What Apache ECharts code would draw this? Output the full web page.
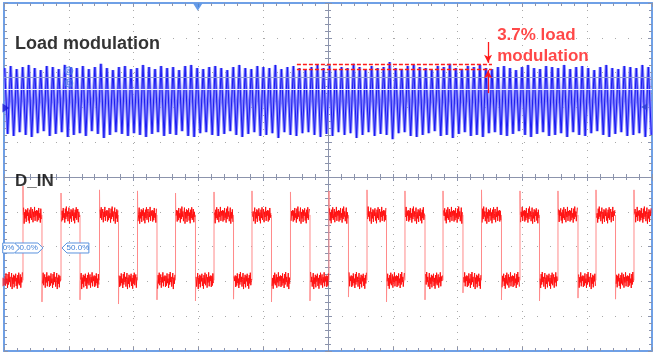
<!DOCTYPE html>
<html><head><meta charset="utf-8">
<script src="https://cdn.jsdelivr.net/npm/echarts@6/dist/echarts.min.js"></script>
<style>html,body{margin:0;padding:0;background:#fff}#c{width:656px;height:356px}</style>
</head><body><div id="c"></div>
<script>
// ---- Data (x in horizontal divisions 0..10, y in vertical divisions 0..10) ----
// Channel 1 (Load modulation): envelope peaks of each carrier cycle
var blueTop = [
8.13,8.19,8.10,8.16,8.22,8.13,8.07,8.19,8.16,8.10,
8.22,8.16,8.13,8.19,8.10,8.16,8.25,8.13,8.07,8.16,
8.19,8.10,8.13,8.22,8.16,8.10,8.19,8.13,8.16,8.07,
8.19,8.22,8.13,8.10,8.16,8.19,8.13,8.07,8.16,8.22,
8.13,8.10,8.19,8.16,8.13,8.22,8.10,8.16,8.19,8.13,
8.10,8.16,8.22,8.13,8.19,8.10,8.16,8.13,8.25,8.16,
8.10,8.19,8.13,8.16,8.30,8.13,8.10,8.19,8.22,8.16,
8.13,8.07,8.19,8.16,8.25,8.13,8.10,8.19,8.16,8.22,
8.13,8.10,8.16,8.19,8.13,8.07,8.16,8.22,8.13,8.10,
8.19,8.16,8.13,8.22,8.10,8.16,8.19,8.13,8.07,8.16,
8.22,8.13,8.10,8.19,8.16,8.13,8.22,8.16];
var blueBottom = [
6.24,6.18,6.29,6.21,6.15,6.26,6.32,6.18,6.24,6.29,
6.15,6.21,6.26,6.18,6.32,6.24,6.12,6.21,6.29,6.24,
6.18,6.26,6.21,6.15,6.24,6.29,6.18,6.24,6.21,6.32,
6.18,6.15,6.26,6.29,6.21,6.18,6.24,6.32,6.21,6.15,
6.24,6.29,6.18,6.21,6.26,6.12,6.29,6.21,6.18,6.26,
6.29,6.21,6.15,6.24,6.18,6.29,6.21,6.26,6.12,6.21,
6.29,6.18,6.24,6.21,6.09,6.26,6.29,6.18,6.15,6.21,
6.26,6.32,6.18,6.21,6.12,6.24,6.29,6.18,6.21,6.15,
6.26,6.29,6.21,6.18,6.24,6.32,6.21,6.15,6.24,6.29,
6.18,6.21,6.26,6.15,6.29,6.21,6.18,6.26,6.32,6.21,
6.15,6.24,6.29,6.18,6.21,6.26,6.15,6.21];
var blueStart = 0.01, blueEnd = 9.99;
var cursorLevels = [7.87, 7.53];

// Channel 2 (D_IN): edges, levels, spikes
var risingEdges  = [0.293,0.880,1.474,2.060,2.647,3.241,3.827,4.421,5.015,5.602,6.188,6.775,7.369,7.963,8.549,9.136,9.722];
var risingSpikes = [4.74,4.54,4.63,4.60,4.54,4.57,4.60,4.57,4.60,4.63,4.60,4.60,4.63,4.60,4.60,4.63,4.63];
var fallingEdges = [0.586,1.173,1.767,2.361,2.955,3.542,4.128,4.722,5.316,5.903,6.497,7.083,7.677,8.264,8.858,9.437];
var fallingSpikes= [1.41,1.47,1.35,1.47,1.44,1.49,1.41,1.44,1.55,1.41,1.47,1.67,1.47,1.44,1.52,1.49];
var redHigh = 3.91, redLow = 2.03;
var redNoise = [0.12,-0.15,0.20,-0.08,0.05,-0.22,0.18,-0.12,0.24,-0.05,0.10,-0.18,0.02,0.21,-0.25,0.08,-0.10,0.16,-0.20,0.13,
                -0.03,0.19,-0.16,0.07,-0.24,0.15,-0.09,0.22,-0.14,0.04,0.17,-0.21,0.09,-0.06,0.23,-0.17,0.11,-0.02,0.14,-0.19];

// Annotation
var modTop = 8.25, modBottom = 8.10, modFrom = 4.52, modTo = 7.53, arrowX = 7.47, arrowUpperStart = 8.88, arrowLowerStart = 7.41;
var titleText1 = 'Load modulation', titleText2 = 'D_IN', noteText = '3.7% load\nmodulation';
var cursorBoxes = [ // [left, right, level, direction, text]
  [0.17, 0.60, 2.96, 1, '50.0%'],
  [-0.02, 0.24, 2.96, 1, '0%'],
  [0.895, 1.31, 2.96, -1, '50.0%']
];

// ---- Build series data ----
var blueData = [];
var nB = blueTop.length * 2;
for (var i = 0; i < blueTop.length; i++) {
  blueData.push([blueStart + (blueEnd - blueStart) * (2 * i) / (nB - 1), blueTop[i]]);
  blueData.push([blueStart + (blueEnd - blueStart) * (2 * i + 1) / (nB - 1), blueBottom[i]]);
}
var segs = [];
segs.push([0.005, risingEdges[0], redLow, 0]);
for (var k = 0; k < risingEdges.length; k++) {
  var end = k < fallingEdges.length ? fallingEdges[k] : 9.995;
  segs.push([risingEdges[k], end, redHigh, (2 * k + 1) * 13]);
  if (k < fallingEdges.length) {
    var nxt = k + 1 < risingEdges.length ? risingEdges[k + 1] : 9.995;
    segs.push([fallingEdges[k], nxt, redLow, (2 * k + 2) * 13]);
  }
}
var edges = [];
for (var r = 0; r < risingEdges.length; r++) edges.push([risingEdges[r], redLow, risingSpikes[r], redHigh]);
for (var f = 0; f < fallingEdges.length; f++) edges.push([fallingEdges[f], redHigh, fallingSpikes[f], redLow]);

var chart = echarts.init(document.getElementById('c'), null, {renderer: 'canvas'});
var frameCol = '#6fa0e6', tickCol = '#8c94ac', dotCol = '#a9a9a9';
function mkX(pos, opts) {
  return Object.assign({
    type: 'value', min: 0, max: 10, interval: 1, position: pos,
    axisLabel: {show: false},
    axisLine: {show: true, onZero: false, lineStyle: {color: frameCol, width: 2}},
    axisTick: {show: true, inside: true, length: 4, lineStyle: {color: tickCol}},
    minorTick: {show: true, splitNumber: 5, length: 3, lineStyle: {color: tickCol}},
    splitLine: {show: false}
  }, opts || {});
}
var option = {
  animation: false,
  backgroundColor: '#ffffff',
  grid: {left: 4, right: 4, top: 3, bottom: 5, containLabel: false},
  xAxis: [
    mkX('bottom', {splitLine: {show: true, lineStyle: {color: dotCol, type: [1, 6], width: 1}}}),
    mkX('top'),
    mkX('top', {offset: -174, axisLine: {show: true, onZero: false, lineStyle: {color: tickCol, width: 1}}}),
    mkX('top', {offset: -174, axisLine: {show: false, onZero: false}, axisTick: {show: true, inside: false, length: 3, lineStyle: {color: tickCol}}})
  ],
  yAxis: [
    mkX('left', {splitLine: {show: true, lineStyle: {color: dotCol, type: [1, 12], width: 1}}}),
    mkX('right'),
    mkX('left', {offset: -324, axisLine: {show: true, onZero: false, lineStyle: {color: tickCol, width: 1}}}),
    mkX('left', {offset: -324, axisLine: {show: false, onZero: false}, axisTick: {show: true, inside: false, length: 3, lineStyle: {color: tickCol}}})
  ],
  series: [
    { type: 'line', name: 'ch1glow', data: blueData, showSymbol: false, symbol: 'none', z: 3,
      lineStyle: {color: '#8484ff', width: 3.1}, silent: true },
    { type: 'line', name: 'ch1', data: blueData, showSymbol: false, symbol: 'none', z: 4,
      lineStyle: {color: '#1a1af0', width: 1}, silent: true,
      markLine: { silent: true, symbol: 'none', label: {show: false}, animation: false,
        data: [
          {yAxis: cursorLevels[0], lineStyle: {color: '#8f9ad6', width: 1, type: 'solid'}},
          {yAxis: cursorLevels[1], lineStyle: {color: '#eeeeff', width: 1, type: 'solid'}}
        ] } },
    { type: 'custom', name: 'edges', data: edges, z: 5, clip: false, silent: true,
      renderItem: function (params, api) {
        var t = api.value(0);
        var p = [api.coord([t, api.value(1)]), api.coord([t, api.value(2)]), api.coord([t + 0.004, api.value(3)])];
        return {type: 'polyline', shape: {points: p}, style: {stroke: '#ff8a8a', lineWidth: 1, fill: null}};
      } },
    { type: 'custom', name: 'D_IN', data: segs, z: 6, clip: false, silent: true,
      renderItem: function (params, api) {
        var t0 = api.value(0), t1 = api.value(1), lv = api.value(2), off = api.value(3);
        var n = Math.max(2, Math.round((t1 - t0) * 120)), pts = [];
        for (var j = 0; j < n; j++) {
          var t = t0 + 0.01 + (t1 - t0 - 0.02) * j / (n - 1);
          pts.push(api.coord([t, lv + redNoise[(off + j) % redNoise.length]]));
        }
        return {type: 'polyline', shape: {points: pts}, style: {stroke: '#ff1010', lineWidth: 1, fill: null}};
      } },
    { type: 'custom', name: 'cursorBoxes', data: cursorBoxes, z: 8, clip: false, silent: true,
      renderItem: function (params, api) {
        var b = cursorBoxes[params.dataIndex];
        var a = api.coord([b[0], b[2]]), c = api.coord([b[1], b[2]]);
        var h = 5, tip = 5, pts;
        if (b[3] > 0) pts = [[a[0], a[1] - h], [c[0] - tip, a[1] - h], [c[0], a[1]], [c[0] - tip, a[1] + h], [a[0], a[1] + h]];
        else pts = [[a[0], a[1]], [a[0] + tip, a[1] - h], [c[0], a[1] - h], [c[0], a[1] + h], [a[0] + tip, a[1] + h]];
        return {type: 'group', children: [
          {type: 'polygon', shape: {points: pts}, style: {fill: '#ffffff', stroke: '#5b93de', lineWidth: 1}},
          {type: 'text', style: {text: b[4], x: (b[3] > 0 ? (a[0] + c[0] - tip) / 2 : (a[0] + tip + c[0]) / 2), y: a[1],
            align: 'center', verticalAlign: 'middle', fill: '#3f7fd6', font: '8px "Liberation Sans", Arial'}}
        ]};
      } },
    { type: 'scatter', name: 'markers', z: 9, silent: true,
      data: [
        {value: [0.03, 6.98], symbol: 'triangle', symbolRotate: -90, symbolSize: [9, 7], itemStyle: {color: '#1a1ad8'}},
        {value: [0.03, 1.98], symbol: 'triangle', symbolRotate: -90, symbolSize: [9, 7], itemStyle: {color: '#e8283a'}},
        {value: [2.99, 9.88], symbol: 'triangle', symbolRotate: 180, symbolSize: [9, 7], itemStyle: {color: '#3f82e2'}},
        {value: [9.88, 7.01], symbol: 'triangle', symbolRotate: 90, symbolSize: [7, 6], itemStyle: {color: '#2a3fd0'}},
        {value: [1.0, 8.05], symbol: 'circle', symbolSize: 8, itemStyle: {color: 'rgba(120,150,255,0.35)', borderColor: '#3f78e0', borderWidth: 1},
          label: {show: true, position: 'inside', formatter: 'a', fontSize: 7, color: '#2f5fd0'}},
        {value: [1.0, 7.70], symbol: 'circle', symbolSize: 8, itemStyle: {color: 'rgba(120,150,255,0.35)', borderColor: '#3f78e0', borderWidth: 1},
          label: {show: true, position: 'inside', formatter: 'b', fontSize: 7, color: '#2f5fd0'}}
      ] },
    { type: 'line', name: 'annotation', data: [], z: 10, silent: true,
      markLine: { silent: true, label: {show: false}, animation: false, symbol: 'none',
        data: [
          [{coord: [modFrom, modTop], lineStyle: {color: '#ff1a1a', width: 1.3, type: [4, 2]}}, {coord: [modTo, modTop]}],
          [{coord: [modFrom, modBottom], lineStyle: {color: '#ff1a1a', width: 1.3, type: [4, 2]}}, {coord: [modTo, modBottom]}],
          [{coord: [arrowX, arrowUpperStart], symbol: 'none', lineStyle: {color: '#ff1a1a', width: 1.3, type: 'solid'}}, {coord: [arrowX, modTop + 0.03], symbol: 'arrow', symbolSize: [6, 8]}],
          [{coord: [arrowX, arrowLowerStart], symbol: 'none', lineStyle: {color: '#ff1a1a', width: 1.3, type: 'solid'}}, {coord: [arrowX, modBottom - 0.03], symbol: 'arrow', symbolSize: [6, 8]}]
        ] } },
    { type: 'scatter', name: 'texts', z: 11, silent: true, symbolSize: 0,
      data: [
        {value: [0.17, 8.82], label: {show: true, position: 'right', distance: 0, formatter: titleText1, color: '#000000', fontWeight: 'bold', fontSize: 18, fontFamily: '"Liberation Sans", Arial'}},
        {value: [0.17, 4.89], label: {show: true, position: 'right', distance: 0, formatter: titleText2, color: '#000000', fontWeight: 'bold', fontSize: 17, fontFamily: '"Liberation Sans", Arial'}},
        {value: [7.61, 8.77], label: {show: true, position: 'right', distance: 0, formatter: noteText, color: '#ff1a1a', fontWeight: 'bold', fontSize: 17, lineHeight: 21, fontFamily: '"Liberation Sans", Arial'}}
      ] }
  ]
};
chart.setOption(option);
</script></body></html>
